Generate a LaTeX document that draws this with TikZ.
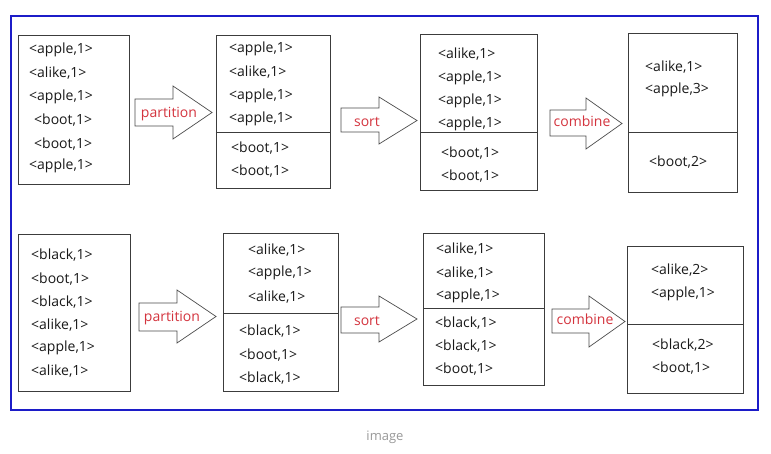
\documentclass[tikz,border=0pt]{standalone}
\usepackage{fontspec}
\setmainfont{Open Sans}
\definecolor{lblred}{RGB}{212,52,62}
\definecolor{frameblue}{RGB}{28,28,200}
\definecolor{boxgray}{RGB}{60,60,60}
\newcommand\blockarrow[9]{%
  % #1 name, #2 x0, #3 x1, #4 x2, #5 body top, #6 body bottom, #7 head top, #8 head bottom, #9 label
  \draw[barrow] (#2,#5) -- (#3,#5) -- (#3,#7) -- (#4,{(#7+#8)/2}) -- (#3,#8) -- (#3,#6) -- (#2,#6) -- cycle;
  \coordinate (#1tip) at (#4,{(#7+#8)/2});
}
\begin{document}
\begin{tikzpicture}[x=1pt,y=-1pt,
  box/.style={draw=boxgray,line width=0.8pt,anchor=north west,inner sep=0pt},
  divider/.style={draw=boxgray,line width=0.8pt},
  txt/.style={anchor=west,inner sep=0pt,yshift=-1pt,text=black!90,font=\fontsize{14}{16}\selectfont},
  lbl/.style={inner sep=0pt,text=lblred,font=\fontsize{14}{16}\selectfont},
  barrow/.style={draw=black!70,line width=0.7pt,fill=white,line join=miter}]
\useasboundingbox (0,0) rectangle (771,454);
\fill[white] (0,0) rectangle (771,454);
\draw[frameblue,line width=2.2pt] (11,16) rectangle (758,410);
\node[inner sep=0pt,text=black!40,font=\fontsize{13}{15}\selectfont] (cap) at (385,437) {image};

% ---------- Row 1 ----------
\node[box,minimum width=111pt,minimum height=149pt] (A1) at (17.5,35) {};
\node[txt] (a11) at (29,49) {<apple,1>};
\node[txt] (a12) at (29,72) {<alike,1>};
\node[txt] (a13) at (29,96) {<apple,1>};
\node[txt] (a14) at (34,119) {<boot,1>};
\node[txt] (a15) at (34,143) {<boot,1>};
\node[txt] (a16) at (29,165) {<apple,1>};

\blockarrow{p1}{135}{173}{212}{99}{126}{86}{139}{}
\node[lbl] (l1) at (169,114) {partition};

\node[box,minimum width=114.5pt,minimum height=153pt] (B1) at (215.8,35) {};
\draw[divider] (B1.west |- 0,132) -- (B1.east |- 0,132);
\node[txt] (b11) at (229,48) {<apple,1>};
\node[txt] (b12) at (229,71) {<alike,1>};
\node[txt] (b13) at (229,95) {<apple,1>};
\node[txt] (b14) at (229,118) {<apple,1>};
\node[txt] (b15) at (231,147) {<boot,1>};
\node[txt] (b16) at (231,170) {<boot,1>};

\blockarrow{s1}{341}{379}{417}{108}{132}{97}{144}{}
\node[lbl] (l2) at (367,122) {sort};

\node[box,minimum width=117pt,minimum height=156pt] (C1) at (420,34) {};
\draw[divider] (C1.west |- 0,132) -- (C1.east |- 0,132);
\node[txt] (c11) at (438,53) {<alike,1>};
\node[txt] (c12) at (438,77) {<apple,1>};
\node[txt] (c13) at (438,100) {<apple,1>};
\node[txt] (c14) at (438,123) {<apple,1>};
\node[txt] (c15) at (441,152) {<boot,1>};
\node[txt] (c16) at (441,175) {<boot,1>};

\blockarrow{c1}{550}{586}{622}{110}{136}{98}{149}{}
\node[lbl] (l3) at (582,121) {combine};

\node[box,minimum width=109pt,minimum height=159pt] (D1) at (628,33) {};
\draw[divider] (D1.west |- 0,132) -- (D1.east |- 0,132);
\node[txt] (d11) at (645,66) {<alike,1>};
\node[txt] (d12) at (645,89) {<apple,3>};
\node[txt] (d13) at (649,161) {<boot,2>};

% ---------- Row 2 ----------
\node[box,minimum width=112pt,minimum height=157pt] (A2) at (18,234) {};
\node[txt] (a21) at (31,254) {<black,1>};
\node[txt] (a22) at (31,278) {<boot,1>};
\node[txt] (a23) at (31,301) {<black,1>};
\node[txt] (a24) at (31,324) {<alike,1>};
\node[txt] (a25) at (31,347) {<apple,1>};
\node[txt] (a26) at (31,370) {<alike,1>};

\blockarrow{p2}{139}{177}{216}{303}{331}{290}{343}{}
\node[lbl] (l4) at (172,318) {partition};

\node[box,minimum width=115pt,minimum height=158pt] (B2) at (223,233) {};
\draw[divider] (B2.west |- 0,313) -- (B2.east |- 0,313);
\node[txt] (b21) at (248,249) {<alike,1>};
\node[txt] (b22) at (248,272) {<apple,1>};
\node[txt] (b23) at (248,296) {<alike,1>};
\node[txt] (b24) at (239,330) {<black,1>};
\node[txt] (b25) at (239,354) {<boot,1>};
\node[txt] (b26) at (239,377) {<black,1>};

\blockarrow{s2}{341}{379}{417}{307}{333}{296}{342}{}
\node[lbl] (l5) at (367,321) {sort};

\node[box,minimum width=121pt,minimum height=152pt] (C2) at (423,233) {};
\draw[divider] (C2.west |- 0,308) -- (C2.east |- 0,308);
\node[txt] (c21) at (436,248) {<alike,1>};
\node[txt] (c22) at (436,272) {<alike,1>};
\node[txt] (c23) at (436,295) {<apple,1>};
\node[txt] (c24) at (435,322) {<black,1>};
\node[txt] (c25) at (435,345) {<black,1>};
\node[txt] (c26) at (435,368) {<boot,1>};

\blockarrow{c2}{552}{589}{625}{309}{333}{296}{347}{}
\node[lbl] (l6) at (585,319) {combine};

\node[box,minimum width=116pt,minimum height=147pt] (D2) at (627,246) {};
\draw[divider] (D2.west |- 0,324) -- (D2.east |- 0,324);
\node[txt] (d21) at (651,269) {<alike,2>};
\node[txt] (d22) at (651,293) {<apple,1>};
\node[txt] (d23) at (652,344) {<black,2>};
\node[txt] (d24) at (652,367) {<boot,1>};
\end{tikzpicture}
\end{document}
